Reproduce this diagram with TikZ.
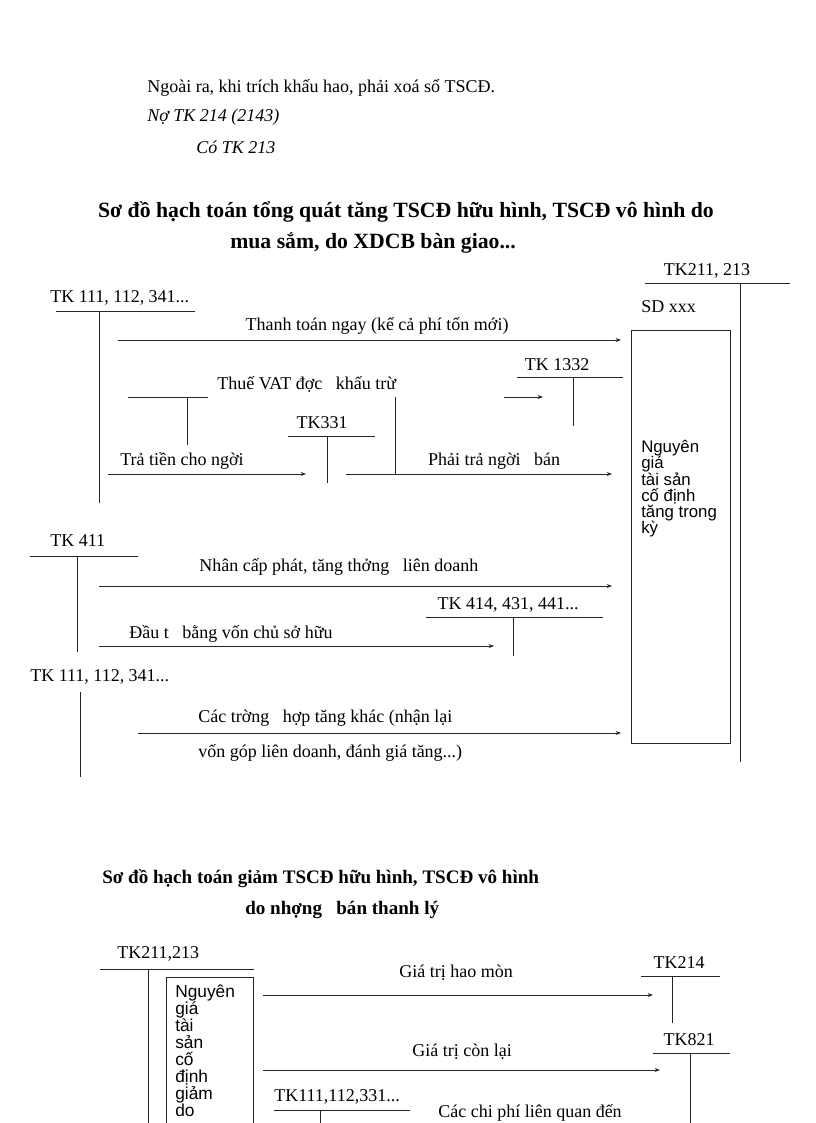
\documentclass[tikz,border=0pt]{standalone}
\usepackage{fontspec}
\setmainfont{Liberation Serif}
\newfontfamily\boxf{Liberation Sans}
\usetikzlibrary{arrows.meta}
\begin{document}
\begin{tikzpicture}[x=0.75pt,y=-0.75pt,
  ln/.style={line width=0.6pt,black!85},
  ar/.style={ln,-{Stealth[length=4pt,width=3pt]}},
  t/.style={inner sep=0pt,font=\fontsize{13.5}{15}\selectfont},
  tl/.style={t,anchor=west},
  ttl/.style={inner sep=0pt,font=\bfseries\fontsize{16.3}{18}\selectfont},
  bx/.style={inner sep=0pt,anchor=north west,align=left,font=\boxf\fontsize{12.6}{12}\selectfont}]
\useasboundingbox (0,0) rectangle (816,1123);
% top text
\node[tl] (p1) at (147,88) {Ngoài ra, khi trích khấu hao, phải xoá sổ TSCĐ.};
\node[tl,font=\itshape\fontsize{13.5}{15}\selectfont] (p2) at (147,117) {Nợ TK 214 (2143)};
\node[tl,font=\itshape\fontsize{13.5}{15}\selectfont] (p3) at (196,147) {Có TK 213};
\node[ttl] (h1) at (406,212) {Sơ đồ hạch toán tổng quát tăng TSCĐ hữu hình, TSCĐ vô hình do};
\node[ttl,anchor=west] (h2) at (230,243) {mua sắm, do XDCB bàn giao...};
% TK211 main
\node[t] (k211) at (707,271) {TK211, 213};
\draw[ln] (645,283) -- (790,283);
\coordinate (v211a) at (740,283); \coordinate (v211b) at (740,762);
\draw[ln] (v211a) -- (v211b);
\node[tl] (sd) at (641,307) {SD xxx};
\node[draw=black!85,line width=0.6pt,minimum width=99*0.75pt,minimum height=413*0.75pt,anchor=north west,inner sep=0pt] (box) at (631,330) {};
\node[bx] (boxt) at (641,440) {Nguyên\\giá\\tài sản\\cố định\\tăng trong\\kỳ};
% TK111 top
\node[tl] (k111) at (50,298) {TK 111, 112, 341...};
\draw[ln] (56,311) -- (195,311);
\draw[ln] (99,311) -- (99,503);
\coordinate (a1s) at (118,340); \coordinate (a1e) at (621,340);
\draw[ar] (a1s) -- (a1e);
\node[t] (l1) at (377,326) {Thanh toán ngay (kể cả phí tổn mới)};
% TK1332
\node[t] (k1332) at (557,365) {TK 1332};
\draw[ln] (517,377) -- (623,377);
\draw[ln] (573,377) -- (573,426);
\coordinate (a2s) at (504,397); \coordinate (a2e) at (543,397);
\draw[ar] (a2s) -- (a2e);
\node[tl] (vat) at (217,384) {Thuế VAT đợc\ \ \ khấu trừ};
\draw[ln] (128,397) -- (208,397);
\draw[ln] (187,397) -- (187,445);
\draw[ln] (395,397) -- (395,474);
% TK331
\node[t] (k331) at (322,423) {TK331};
\draw[ln] (288,436) -- (375,436);
\draw[ln] (327,436) -- (327,483);
\coordinate (a3s) at (108,474); \coordinate (a3e) at (306,474);
\draw[ar] (a3s) -- (a3e);
\node[tl] (l3) at (120,461) {Trả tiền cho ngời};
\coordinate (a4s) at (346,474); \coordinate (a4e) at (612,474);
\draw[ar] (a4s) -- (a4e);
\node[t] (l4) at (494,461) {Phải trả ngời\ \ \ bán};
% TK411
\node[tl] (k411) at (50,541) {TK 411};
\draw[ln] (30,556) -- (138,556);
\draw[ln] (77,556) -- (77,652);
\coordinate (a5s) at (99,586); \coordinate (a5e) at (612,586);
\draw[ar] (a5s) -- (a5e);
\node[tl] (l5) at (199,567) {Nhân cấp phát, tăng thởng\ \ \ liên doanh};
\node[t] (k414) at (508,605) {TK 414, 431, 441...};
\draw[ln] (426,617) -- (603,617);
\draw[ln] (513,617) -- (513,656);
\coordinate (a6s) at (99,646); \coordinate (a6e) at (494,646);
\draw[ar] (a6s) -- (a6e);
\node[tl] (l6) at (129,634) {Đầu t\ \ \ bằng vốn chủ sở hữu};
% TK111 bottom
\node[tl] (k111b) at (30,677) {TK 111, 112, 341...};
\draw[ln] (80,692) -- (80,777);
\coordinate (a7s) at (138,733); \coordinate (a7e) at (621,733);
\draw[ar] (a7s) -- (a7e);
\node[tl] (l7a) at (198,718) {Các trờng\ \ \ hợp tăng khác (nhận lại};
\node[tl] (l7b) at (198,753) {vốn góp liên doanh, đánh giá tăng...)};
% Diagram 2
\node[ttl,anchor=west,font=\bfseries\fontsize{14.3}{16}\selectfont] (g1) at (102,879) {Sơ đồ hạch toán giảm TSCĐ hữu hình, TSCĐ vô hình};
\node[ttl,anchor=west,font=\bfseries\fontsize{14.3}{16}\selectfont] (g2) at (245,910) {do nhợng\ \ \ bán thanh lý};
\node[tl] (r211) at (117,954) {TK211,213};
\draw[ln] (100,969) -- (254,969);
\draw[ln] (148,969) -- (148,1123);
\draw[ln] (166,1123) -- (166,977) -- (253,977) -- (253,1123);
\node[bx,font=\boxf\fontsize{13}{12.75}\selectfont] (box2) at (175,985) {Nguyên\\giá\\tài\\sản\\cố\\định\\giảm\\do};
\coordinate (b1s) at (263,995); \coordinate (b1e) at (653,995);
\draw[ar] (b1s) -- (b1e);
\node[t] (m1) at (456,973) {Giá trị hao mòn};
\node[t] (r214) at (679,963) {TK214};
\draw[ln] (641,976) -- (720,976);
\draw[ln] (672,976) -- (672,1023);
\node[t] (r821) at (689,1040) {TK821};
\draw[ln] (653,1053) -- (730,1053);
\draw[ln] (690,1053) -- (690,1123);
\coordinate (b2s) at (263,1070); \coordinate (b2e) at (660,1070);
\draw[ar] (b2s) -- (b2e);
\node[t] (m2) at (462,1052) {Giá trị còn lại};
\node[tl] (r111) at (274,1097) {TK111,112,331...};
\draw[ln] (274,1110) -- (410,1110);
\draw[ln] (320,1110) -- (320,1123);
\node[tl] (m3) at (438,1113) {Các chi phí liên quan đến};
\end{tikzpicture}
\end{document}
